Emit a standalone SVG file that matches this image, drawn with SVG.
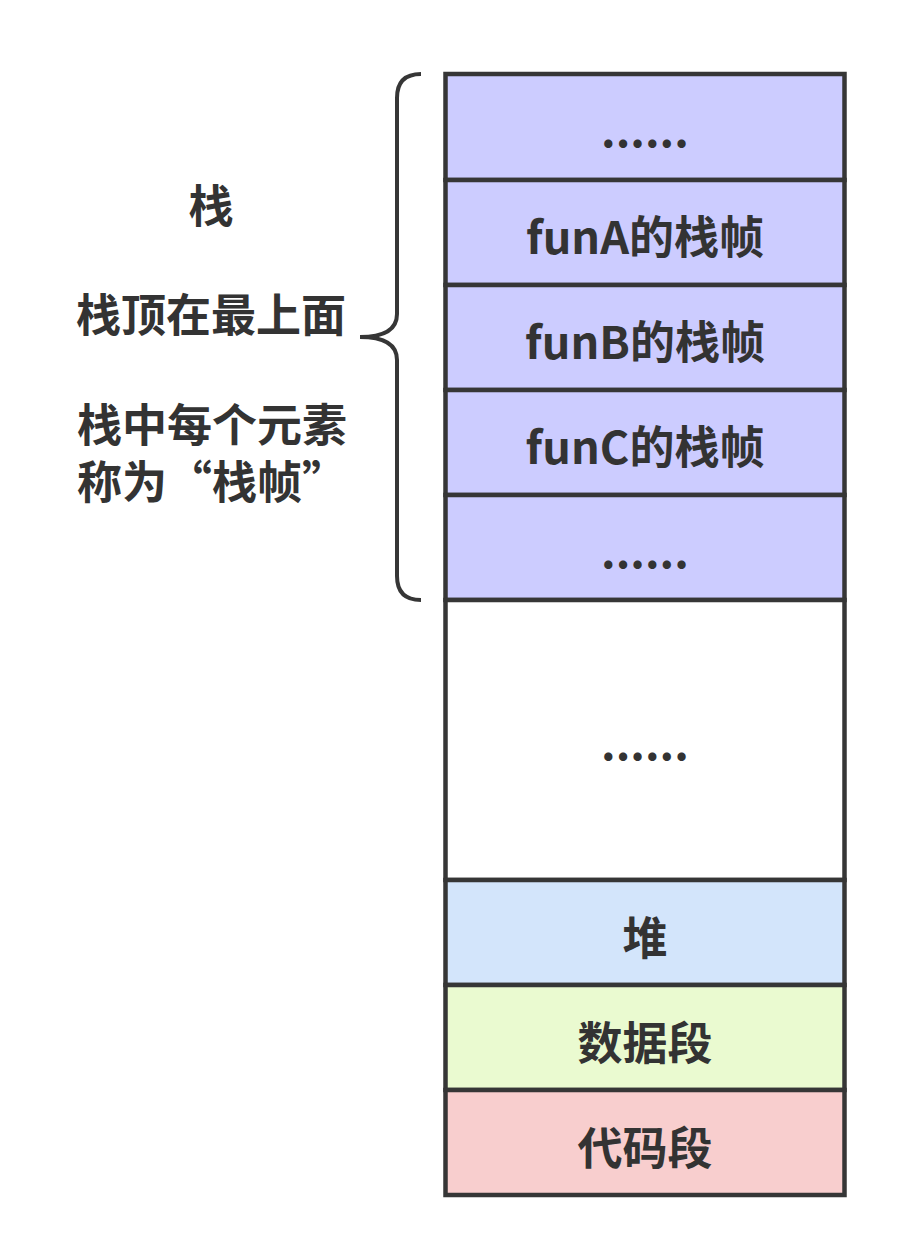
<svg xmlns="http://www.w3.org/2000/svg" width="916" height="1258" viewBox="0 0 916 1258">
<style>
.box{stroke:#363636;stroke-width:4.5}
.t{font-family:"Noto Sans CJK SC","Noto Sans",sans-serif;font-size:45px;font-weight:bold;fill:#333333;text-anchor:middle}
.lt{font-family:"Noto Sans CJK SC","Noto Sans",sans-serif;font-size:45px;font-weight:bold;fill:#333333}
.brace{fill:none;stroke:#363636;stroke-width:4;stroke-linecap:butt}
</style>
<rect width="916" height="1258" fill="#ffffff"/>
<g id="labels">
<text class="lt" x="211" y="223" text-anchor="middle">栈</text>
<text class="lt" x="211" y="332" text-anchor="middle">栈顶在最上面</text>
<text class="lt"><tspan x="77" y="442">栈中每个元素</tspan><tspan x="77" y="499">称为“栈帧”</tspan></text>
</g>
<g id="connectors">
<path class="brace" d="M421,74 Q397,74 397,98 L397,314 Q397,337 360,337 Q397,337 397,360 L397,576 Q397,600 421,600"/>
</g>
<g id="stack-top"><rect class="box" x="445.5" y="74" width="399" height="106" fill="#CCCCFF"/><text class="t" x="645" y="147">......</text></g>
<g id="funA"><rect class="box" x="445.5" y="180" width="399" height="105" fill="#CCCCFF"/><text class="t" x="645" y="254">funA的栈帧</text></g>
<g id="funB"><rect class="box" x="445.5" y="285" width="399" height="105" fill="#CCCCFF"/><text class="t" x="645" y="359">funB的栈帧</text></g>
<g id="funC"><rect class="box" x="445.5" y="390" width="399" height="105" fill="#CCCCFF"/><text class="t" x="645" y="464">funC的栈帧</text></g>
<g id="stack-bottom"><rect class="box" x="445.5" y="495" width="399" height="105" fill="#CCCCFF"/><text class="t" x="645" y="568">......</text></g>
<g id="free"><rect class="box" x="445.5" y="600" width="399" height="280" fill="#FFFFFF"/><text class="t" x="645" y="760">......</text></g>
<g id="heap"><rect class="box" x="445.5" y="880" width="399" height="105" fill="#D3E5FB"/><text class="t" x="645" y="955">堆</text></g>
<g id="data"><rect class="box" x="445.5" y="985" width="399" height="105" fill="#EAFAD0"/><text class="t" x="645" y="1060">数据段</text></g>
<g id="code"><rect class="box" x="445.5" y="1090" width="399" height="105" fill="#F8CECE"/><text class="t" x="645" y="1165">代码段</text></g>
</svg>
